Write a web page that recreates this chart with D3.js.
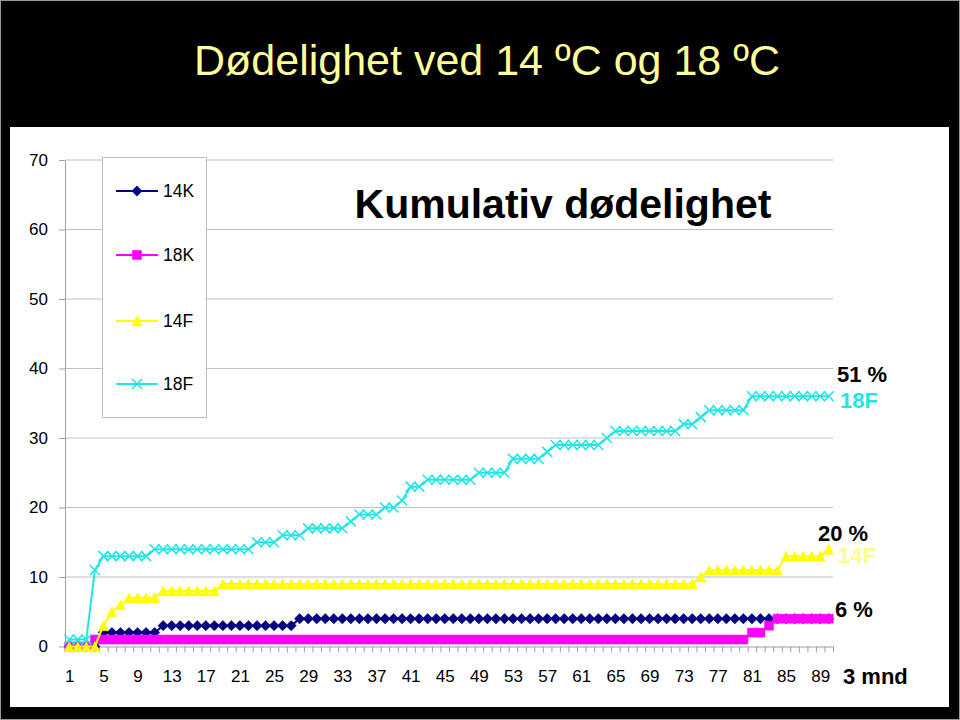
<!DOCTYPE html>
<html>
<head>
<meta charset="utf-8">
<script src="https://cdn.jsdelivr.net/npm/d3@7"></script>
<style>
  body { margin: 0; background: #000; }
  svg { display: block; font-family: "Liberation Sans", Arial, sans-serif; }
</style>
</head>
<body>
<svg></svg>
<script>
// days after start (categories)
let days = [
  1, 2, 3, 4, 5, 6, 7, 8, 9, 10, 11, 12, 13, 14, 15, 16, 17, 18, 19, 20,
  21, 22, 23, 24, 25, 26, 27, 28, 29, 30, 31, 32, 33, 34, 35, 36, 37, 38, 39, 40,
  41, 42, 43, 44, 45, 46, 47, 48, 49, 50, 51, 52, 53, 54, 55, 56, 57, 58, 59, 60,
  61, 62, 63, 64, 65, 66, 67, 68, 69, 70, 71, 72, 73, 74, 75, 76, 77, 78, 79, 80,
  81, 82, 83, 84, 85, 86, 87, 88, 89, 90
]

let k14 = [
  0, 0, 0, 0, 2, 2, 2, 2, 2, 2,
  2, 3, 3, 3, 3, 3, 3, 3, 3, 3,
  3, 3, 3, 3, 3, 3, 3, 4, 4, 4,
  4, 4, 4, 4, 4, 4, 4, 4, 4, 4,
  4, 4, 4, 4, 4, 4, 4, 4, 4, 4,
  4, 4, 4, 4, 4, 4, 4, 4, 4, 4,
  4, 4, 4, 4, 4, 4, 4, 4, 4, 4,
  4, 4, 4, 4, 4, 4, 4, 4, 4, 4,
  4, 4, 4, 4, 4, 4, 4, 4, 4, 4
]

let k18 = [
  0, 0, 0, 1, 1, 1, 1, 1, 1, 1,
  1, 1, 1, 1, 1, 1, 1, 1, 1, 1,
  1, 1, 1, 1, 1, 1, 1, 1, 1, 1,
  1, 1, 1, 1, 1, 1, 1, 1, 1, 1,
  1, 1, 1, 1, 1, 1, 1, 1, 1, 1,
  1, 1, 1, 1, 1, 1, 1, 1, 1, 1,
  1, 1, 1, 1, 1, 1, 1, 1, 1, 1,
  1, 1, 1, 1, 1, 1, 1, 1, 1, 1,
  2, 2, 3, 4, 4, 4, 4, 4, 4, 4
]

let f14 = [
  0, 0, 0, 0, 3, 5, 6, 7, 7, 7,
  7, 8, 8, 8, 8, 8, 8, 8, 9, 9,
  9, 9, 9, 9, 9, 9, 9, 9, 9, 9,
  9, 9, 9, 9, 9, 9, 9, 9, 9, 9,
  9, 9, 9, 9, 9, 9, 9, 9, 9, 9,
  9, 9, 9, 9, 9, 9, 9, 9, 9, 9,
  9, 9, 9, 9, 9, 9, 9, 9, 9, 9,
  9, 9, 9, 9, 10, 11, 11, 11, 11, 11,
  11, 11, 11, 11, 13, 13, 13, 13, 13, 14
]

let f18 = [
  1, 1, 1, 11, 13, 13, 13, 13, 13, 13,
  14, 14, 14, 14, 14, 14, 14, 14, 14, 14,
  14, 14, 15, 15, 15, 16, 16, 16, 17, 17,
  17, 17, 17, 18, 19, 19, 19, 20, 20, 21,
  23, 23, 24, 24, 24, 24, 24, 24, 25, 25,
  25, 25, 27, 27, 27, 27, 28, 29, 29, 29,
  29, 29, 29, 30, 31, 31, 31, 31, 31, 31,
  31, 31, 32, 32, 33, 34, 34, 34, 34, 34,
  36, 36, 36, 36, 36, 36, 36, 36, 36, 36
]

let seriesNames = ['14K', '18K', '14F', '18F']
let xLabels = [1, 5, 9, 13, 17, 21, 25, 29, 33, 37, 41, 45, 49, 53, 57, 61, 65, 69, 73, 77, 81, 85, 89]
let yTicks = [0, 10, 20, 30, 40, 50, 60, 70]
let endNotes = ['51 %', '18F', '20 %', '14F', '6 %', '3 mnd']
let mainTitle = 'Dødelighet ved 14 ºC og 18 ºC'
let chartTitle = 'Kumulativ dødelighet'

let width = 960
let height = 720
let plotLeft = 65
let plotRight = 833
let plotTop = 160
let plotBottom = 646.5

let svg = d3.select('svg').attr('width', width).attr('height', height)

let xScale = d3.scalePoint().domain(days).range([plotLeft, plotRight]).padding(0.5)
let edgeScale = d3.scaleLinear().domain([0, days.length]).range([plotLeft, plotRight])
let yScale = d3.scaleLinear().domain([0, 70]).range([plotBottom, plotTop])

// marker shapes
let diamond = (s) => `M0,${-s}L${s},0L0,${s}L${-s},0Z`
let square = (s) => `M${-s},${-s}H${s}V${s}H${-s}Z`
let triangle = (s) => `M0,${-s}L${s},${s}H${-s}Z`
let cross = (s) => `M${-s},${-s}L${s},${s}M${s},${-s}L${-s},${s}`

let series = [
  { name: seriesNames[0], values: k14, color: '#000080', shape: diamond, size: 5.2, fill: true },
  { name: seriesNames[1], values: k18, color: '#ff00ff', shape: square, size: 4.5, fill: true },
  { name: seriesNames[2], values: f14, color: '#ffff00', shape: triangle, size: 5, fill: true },
  { name: seriesNames[3], values: f18, color: '#22e6e6', shape: cross, size: 5, fill: false }
]

let drawBackground = () => {
  svg.append('rect')
    .attr('x', 0.5).attr('y', 0.5)
    .attr('width', width - 1).attr('height', height - 1)
    .attr('fill', '#000').attr('stroke', '#9a9a9a')

  svg.append('rect')
    .attr('x', 10).attr('y', 127)
    .attr('width', 939).attr('height', 580)
    .attr('fill', '#fff')

  svg.append('text')
    .attr('x', 487).attr('y', 75)
    .attr('text-anchor', 'middle')
    .attr('font-size', 43)
    .attr('fill', '#ffff99')
    .text(mainTitle)
}

let drawAxes = () => {
  svg.append('g')
    .selectAll('line')
    .data(yTicks.filter(d => d > 0))
    .enter()
    .append('line')
    .attr('x1', plotLeft).attr('x2', plotRight)
    .attr('y1', d => yScale(d)).attr('y2', d => yScale(d))
    .attr('stroke', '#c0c0c0')

  let yAxis = d3.axisLeft(yScale).tickValues(yTicks).tickSize(6).tickSizeOuter(0).tickPadding(11)
  let gy = svg.append('g')
    .attr('transform', 'translate(' + plotLeft + ',0)')
    .call(yAxis)
  gy.selectAll('path, line').attr('stroke', '#a0a0a0')
  gy.selectAll('text').attr('font-size', 17).attr('fill', '#000')
    .attr('font-family', '"Liberation Sans", Arial, sans-serif')

  let xEdges = d3.axisBottom(edgeScale).tickValues(d3.range(0, days.length + 1))
    .tickSize(6).tickSizeOuter(0).tickFormat('')
  let gx = svg.append('g')
    .attr('transform', 'translate(0,' + plotBottom + ')')
    .call(xEdges)
  gx.selectAll('path, line').attr('stroke', '#a0a0a0')

  let xAxis = d3.axisBottom(xScale).tickValues(xLabels).tickSize(0).tickPadding(23)
  let gl = svg.append('g')
    .attr('transform', 'translate(0,' + plotBottom + ')')
    .call(xAxis)
  gl.select('.domain').remove()
  gl.selectAll('text').attr('font-size', 17).attr('fill', '#000')
    .attr('font-family', '"Liberation Sans", Arial, sans-serif')
}

let drawSeries = () => {
  let line = d3.line()
    .x((v, i) => xScale(days[i]))
    .y(v => yScale(v))

  series.forEach(s => {
    let g = svg.append('g')
    g.append('path')
      .attr('d', line(s.values))
      .attr('fill', 'none')
      .attr('stroke', s.color)
      .attr('stroke-width', 2)

    g.selectAll('path.marker')
      .data(s.values)
      .enter()
      .append('path')
      .attr('class', 'marker')
      .attr('transform', (v, i) => 'translate(' + xScale(days[i]) + ',' + yScale(v) + ')')
      .attr('d', s.shape(s.size))
      .attr('fill', s.fill ? s.color : 'none')
      .attr('stroke', s.color)
      .attr('stroke-width', s.fill ? 0.5 : 1.6)
  })
}

let drawLegend = () => {
  let legend = svg.append('g')
  legend.append('rect')
    .attr('x', 102.5).attr('y', 157.5)
    .attr('width', 104).attr('height', 260)
    .attr('fill', '#fff').attr('stroke', '#c0c0c0')

  let rows = [191, 255, 321, 384]
  series.forEach((s, i) => {
    let y = rows[i]
    legend.append('line')
      .attr('x1', 116).attr('x2', 158)
      .attr('y1', y).attr('y2', y)
      .attr('stroke', s.color).attr('stroke-width', 2)
    legend.append('path')
      .attr('transform', 'translate(137,' + y + ')')
      .attr('d', s.shape(s.size))
      .attr('fill', s.fill ? s.color : 'none')
      .attr('stroke', s.color)
      .attr('stroke-width', s.fill ? 0.5 : 1.6)
    legend.append('text')
      .attr('x', 163).attr('y', y)
      .attr('dy', '0.36em')
      .attr('font-size', 17.5)
      .text(s.name)
  })
}

let drawTitles = () => {
  svg.append('text')
    .attr('x', 563).attr('y', 218)
    .attr('text-anchor', 'middle')
    .attr('font-size', 41)
    .attr('font-weight', 'bold')
    .attr('fill', '#000')
    .text(chartTitle)

  let notes = [
    { x: 837, y: 382, color: '#000' },
    { x: 840, y: 408, color: '#22e6e6' },
    { x: 818, y: 541, color: '#000' },
    { x: 838, y: 563, color: '#ffff88' },
    { x: 835, y: 617, color: '#000' },
    { x: 843, y: 684, color: '#000' }
  ]
  notes.forEach((n, i) => {
    svg.append('text')
      .attr('x', n.x).attr('y', n.y)
      .attr('font-size', 22)
      .attr('font-weight', 'bold')
      .attr('fill', n.color)
      .text(endNotes[i])
  })
}

drawBackground()
drawAxes()
drawSeries()
drawLegend()
drawTitles()
</script>
</body>
</html>
